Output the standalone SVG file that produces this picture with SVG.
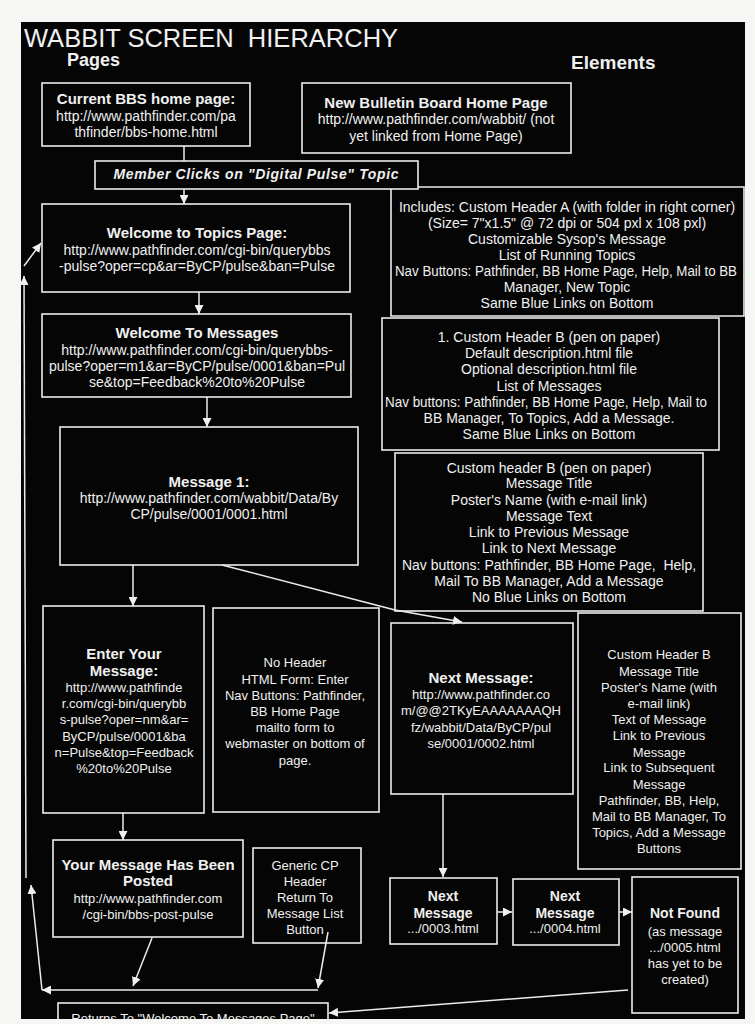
<svg xmlns="http://www.w3.org/2000/svg" width="755" height="1024" viewBox="0 0 755 1024">
<style>
.box{fill:none;stroke:#ececec;stroke-width:1.6}
.c{fill:none;stroke:#ececec;stroke-width:1.5}
text{font-family:"Liberation Sans",Arial,sans-serif;fill:#f0f0f0;text-anchor:middle;font-size:14px}
.b{font-weight:bold;font-size:15px}
.s{font-size:13px}
.sb{font-weight:bold;font-size:14px}
.mi{font-weight:bold;font-style:italic;font-size:14px}
</style>
<defs>
<marker id="ah" markerUnits="userSpaceOnUse" markerWidth="9" markerHeight="9" refX="9" refY="4.5" orient="auto"><path d="M0,0 L9,4.5 L0,9 Z" fill="#f0f0f0"/></marker>
</defs>
<rect x="0" y="0" width="755" height="1024" fill="#f6f6f4"/>
<rect x="21" y="22" width="724" height="997" fill="#050505"/>

<g id="title">
<text x="24" y="47" xml:space="preserve" style="text-anchor:start;font-size:25.5px">WABBIT SCREEN  HIERARCHY</text>
<text x="67" y="66" style="text-anchor:start;font-size:18px;font-weight:bold">Pages</text>
<text x="571" y="69" style="text-anchor:start;font-size:19px;font-weight:bold">Elements</text>
</g>

<g id="connectors">
<line class="c" x1="184" y1="146" x2="184" y2="161"/>
<line class="c" x1="184" y1="189" x2="184" y2="204" marker-end="url(#ah)"/>
<line class="c" x1="199" y1="292" x2="199" y2="314" marker-end="url(#ah)"/>
<line class="c" x1="207" y1="397" x2="207" y2="427" marker-end="url(#ah)"/>
<line class="c" x1="133" y1="565" x2="133" y2="606" marker-end="url(#ah)"/>
<polyline class="c" points="222,565 395,610 462,622" marker-end="url(#ah)"/>
<line class="c" x1="123" y1="813" x2="123" y2="840" marker-end="url(#ah)"/>
<line class="c" x1="443" y1="794" x2="443" y2="877" marker-end="url(#ah)"/>
<line class="c" x1="497" y1="912" x2="512" y2="912" marker-end="url(#ah)"/>
<line class="c" x1="619" y1="912" x2="632" y2="912" marker-end="url(#ah)"/>
<line class="c" x1="152" y1="938" x2="133" y2="986" marker-end="url(#ah)"/>
<line class="c" x1="328" y1="932" x2="318" y2="988" marker-end="url(#ah)"/>
<line class="c" x1="318" y1="990" x2="42" y2="990" marker-end="url(#ah)"/>
<line class="c" x1="42" y1="990" x2="31" y2="885" marker-end="url(#ah)"/>
<line class="c" x1="26" y1="878" x2="24" y2="276" marker-end="url(#ah)"/>
<line class="c" x1="24" y1="266" x2="41" y2="243" marker-end="url(#ah)"/>
<line class="c" x1="628" y1="990" x2="329" y2="1013" marker-end="url(#ah)"/>
</g>

<g id="current-bbs">
<rect class="box" x="42" y="83" width="208" height="63"/>
<text class="b" x="146" y="104">Current BBS home page:</text>
<text x="146" y="121">http://www.pathfinder.com/pa</text>
<text x="146" y="137">thfinder/bbs-home.html</text>
</g>

<g id="new-bb">
<rect class="box" x="302" y="83" width="269" height="70"/>
<text class="b" x="436" y="108">New Bulletin Board Home Page</text>
<text x="436" y="124">http://www.pathfinder.com/wabbit/ (not</text>
<text x="436" y="141">yet linked from Home Page)</text>
</g>

<g id="member-clicks">
<rect class="box" x="95" y="161" width="323" height="28"/>
<text class="mi" x="256" y="179" textLength="285" lengthAdjust="spacing">Member Clicks on "Digital Pulse" Topic</text>
</g>

<g id="elements-topics">
<path class="box" d="M418,187 H744 V316 H391 V189"/>
<text x="567" y="212">Includes: Custom Header A (with folder in right corner)</text>
<text x="567" y="228">(Size= 7"x1.5" @ 72 dpi or 504 pxl x 108 pxl)</text>
<text x="567" y="244">Customizable Sysop's Message</text>
<text x="567" y="260">List of Running Topics</text>
<text x="566" y="276" textLength="342" lengthAdjust="spacingAndGlyphs">Nav Buttons: Pathfinder, BB Home Page, Help, Mail to BB</text>
<text x="567" y="292">Manager, New Topic</text>
<text x="567" y="308">Same Blue Links on Bottom</text>
</g>

<g id="topics">
<rect class="box" x="42" y="204" width="308" height="88"/>
<text class="b" x="197" y="238">Welcome to Topics Page:</text>
<text x="197" y="255">http://www.pathfinder.com/cgi-bin/querybbs</text>
<text x="197" y="271">-pulse?oper=cp&amp;ar=ByCP/pulse&amp;ban=Pulse</text>
</g>

<g id="messages">
<rect class="box" x="42" y="314" width="309" height="83"/>
<text class="b" x="197" y="338">Welcome To Messages</text>
<text x="197" y="355">http://www.pathfinder.com/cgi-bin/querybbs-</text>
<text x="197" y="371">pulse?oper=m1&amp;ar=ByCP/pulse/0001&amp;ban=Pul</text>
<text x="197" y="387">se&amp;top=Feedback%20to%20Pulse</text>
</g>

<g id="elements-messages">
<rect class="box" x="382" y="318" width="337" height="132"/>
<text x="549" y="342">1. Custom Header B (pen on paper)</text>
<text x="549" y="358">Default description.html file</text>
<text x="549" y="374">Optional description.html file</text>
<text x="549" y="391">List of Messages</text>
<text x="546" y="407" textLength="322" lengthAdjust="spacingAndGlyphs">Nav buttons: Pathfinder, BB Home Page, Help, Mail to</text>
<text x="549" y="423">BB Manager, To Topics, Add a Message.</text>
<text x="549" y="439">Same Blue Links on Bottom</text>
</g>

<g id="message1">
<rect class="box" x="60" y="427" width="298" height="138"/>
<text class="b" x="209" y="487">Message 1:</text>
<text x="209" y="503">http://www.pathfinder.com/wabbit/Data/By</text>
<text x="209" y="519">CP/pulse/0001/0001.html</text>
</g>

<g id="elements-message1">
<rect class="box" x="395" y="453" width="308" height="158"/>
<text x="549" y="473">Custom header B (pen on paper)</text>
<text x="549" y="488">Message Title</text>
<text x="549" y="505">Poster's Name (with e-mail link)</text>
<text x="549" y="521">Message Text</text>
<text x="549" y="537">Link to Previous Message</text>
<text x="549" y="553">Link to Next Message</text>
<text x="549" y="570" xml:space="preserve">Nav buttons: Pathfinder, BB Home Page,  Help,</text>
<text x="549" y="586">Mail To BB Manager, Add a Message</text>
<text x="549" y="602">No Blue Links on Bottom</text>
</g>

<g id="enter-message">
<rect class="box" x="43" y="606" width="161" height="207"/>
<text class="b" x="124" y="659">Enter Your</text>
<text class="b" x="124" y="676">Message:</text>
<text class="s" x="124" y="692">http://www.pathfinde</text>
<text class="s" x="124" y="708">r.com/cgi-bin/querybb</text>
<text class="s" x="124" y="724">s-pulse?oper=nm&amp;ar=</text>
<text class="s" x="124" y="741">ByCP/pulse/0001&amp;ba</text>
<text class="s" x="124" y="757">n=Pulse&amp;top=Feedback</text>
<text class="s" x="124" y="773">%20to%20Pulse</text>
</g>

<g id="elements-enter">
<rect class="box" x="213" y="608" width="166" height="204"/>
<text class="s" x="295" y="667">No Header</text>
<text class="s" x="295" y="684">HTML Form: Enter</text>
<text class="s" x="295" y="700">Nav Buttons: Pathfinder,</text>
<text class="s" x="295" y="716">BB Home Page</text>
<text class="s" x="295" y="732">mailto form to</text>
<text class="s" x="295" y="748">webmaster on bottom of</text>
<text class="s" x="295" y="765">page.</text>
</g>

<g id="next-message">
<rect class="box" x="391" y="623" width="182" height="171"/>
<text class="b" x="481" y="683">Next Message:</text>
<text class="s" x="481" y="699">http://www.pathfinder.co</text>
<text class="s" x="481" y="715">m/@@2TKyEAAAAAAAQH</text>
<text class="s" x="481" y="732">fz/wabbit/Data/ByCP/pul</text>
<text class="s" x="481" y="748">se/0001/0002.html</text>
</g>

<g id="elements-next">
<rect class="box" x="578" y="613" width="163" height="256"/>
<text class="s" x="659" y="659">Custom Header B</text>
<text class="s" x="659" y="676">Message Title</text>
<text class="s" x="659" y="692">Poster's Name (with</text>
<text class="s" x="659" y="708">e-mail link)</text>
<text class="s" x="659" y="724">Text of Message</text>
<text class="s" x="659" y="740">Link to Previous</text>
<text class="s" x="659" y="757">Message</text>
<text class="s" x="659" y="772">Link to Subsequent</text>
<text class="s" x="659" y="789">Message</text>
<text class="s" x="659" y="805">Pathfinder, BB, Help,</text>
<text class="s" x="659" y="821">Mail to BB Manager, To</text>
<text class="s" x="659" y="837">Topics, Add a Message</text>
<text class="s" x="659" y="853">Buttons</text>
</g>

<g id="posted">
<rect class="box" x="53" y="840" width="190" height="97"/>
<text class="b" x="148" y="870">Your Message Has Been</text>
<text class="b" x="148" y="886">Posted</text>
<text class="s" x="148" y="903">http://www.pathfinder.com</text>
<text class="s" x="148" y="919">/cgi-bin/bbs-post-pulse</text>
</g>

<g id="elements-posted">
<rect class="box" x="253" y="848" width="108" height="95"/>
<text class="s" x="305" y="870">Generic CP</text>
<text class="s" x="305" y="886">Header</text>
<text class="s" x="305" y="902">Return To</text>
<text class="s" x="305" y="918">Message List</text>
<text class="s" x="305" y="934">Button</text>
</g>

<g id="next-0003">
<rect class="box" x="390" y="878" width="107" height="66"/>
<text class="sb" x="443" y="901">Next</text>
<text class="sb" x="443" y="918">Message</text>
<text class="s" x="443" y="933">.../0003.html</text>
</g>

<g id="next-0004">
<rect class="box" x="513" y="879" width="106" height="66"/>
<text class="sb" x="565" y="901">Next</text>
<text class="sb" x="565" y="918">Message</text>
<text class="s" x="565" y="933">.../0004.html</text>
</g>

<g id="not-found">
<rect class="box" x="632" y="877" width="106" height="136"/>
<text class="sb" x="685" y="918">Not Found</text>
<text class="s" x="685" y="936">(as message</text>
<text class="s" x="685" y="952">.../0005.html</text>
<text class="s" x="685" y="968">has yet to be</text>
<text class="s" x="685" y="984">created)</text>
</g>

<g id="returns">
<rect class="box" x="58" y="1003" width="270" height="30"/>
<text class="s" x="193" y="1023">Returns To "Welcome To Messages Page"</text>
</g>

<rect x="0" y="1019" width="755" height="5" fill="#f6f6f4"/>
</svg>
